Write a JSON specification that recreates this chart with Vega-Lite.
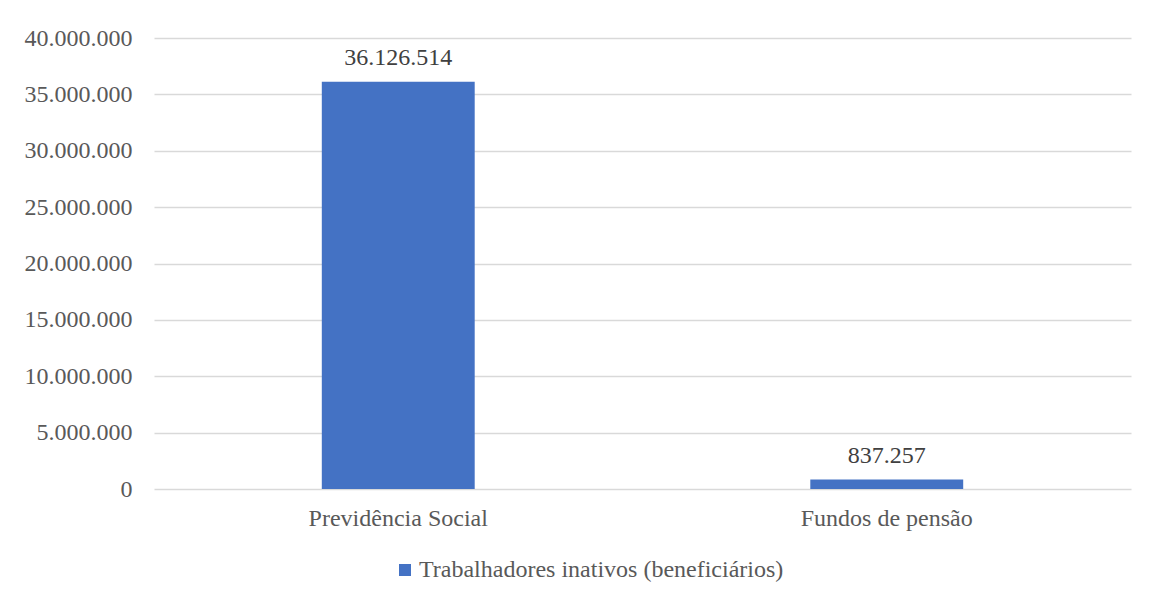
{
  "$schema": "https://vega.github.io/schema/vega-lite/v6.json",
  "autosize": "none",
  "width": 977,
  "height": 451,
  "padding": {"left": 154, "top": 38, "right": 22, "bottom": 115},
  "background": "white",
  "config": {
    "view": {"stroke": null},
    "font": "Liberation Serif",
    "axis": {"labelFont": "Liberation Serif", "labelColor": "#595959", "labelFontSize": 24, "titleFont": "Liberation Serif"},
    "legend": {"labelFont": "Liberation Serif", "labelColor": "#595959", "labelFontSize": 24}
  },
  "data": {
    "values": [
      {"categoria": "Previdência Social", "valor": 36126514, "label": "36.126.514", "serie": "Trabalhadores inativos (beneficiários)"},
      {"categoria": "Fundos de pensão", "valor": 837257, "label": "837.257", "serie": "Trabalhadores inativos (beneficiários)"}
    ]
  },
  "encoding": {
    "x": {
      "field": "categoria", "type": "nominal", "sort": null,
      "scale": {"paddingInner": 0.687, "paddingOuter": 0.3435},
      "axis": {"title": null, "labelAngle": 0, "domain": false, "ticks": false, "labelPadding": 17, "grid": false, "labelLimit": 0}
    }
  },
  "layer": [
    {
      "mark": {"type": "bar", "color": "#4472c4"},
      "encoding": {
        "y": {
          "field": "valor", "type": "quantitative",
          "scale": {"domain": [0, 40000000], "nice": false},
          "axis": {"title": null, "values": [0, 5000000, 10000000, 15000000, 20000000, 25000000, 30000000, 35000000, 40000000], "format": ",d", "labelExpr": "replace(replace(replace(datum.label, ',', '.'), ',', '.'), ',', '.')", "domain": false, "ticks": false, "labelPadding": 22, "gridColor": "#d9d9d9", "gridWidth": 1.3}
        },
        "color": {
          "field": "serie", "type": "nominal",
          "scale": {"range": ["#4472c4"]},
          "legend": {"title": null, "orient": "none", "legendX": 239, "legendY": 520, "symbolType": "square", "symbolSize": 144, "symbolStrokeWidth": 0, "labelOffset": 2, "labelFontSize": 24, "labelLimit": 0}
        }
      }
    },
    {
      "mark": {"type": "text", "dy": -24, "fontSize": 24, "color": "#404040", "font": "Liberation Serif"},
      "encoding": {
        "y": {"field": "valor", "type": "quantitative"},
        "text": {"field": "label"}
      }
    }
  ]
}
